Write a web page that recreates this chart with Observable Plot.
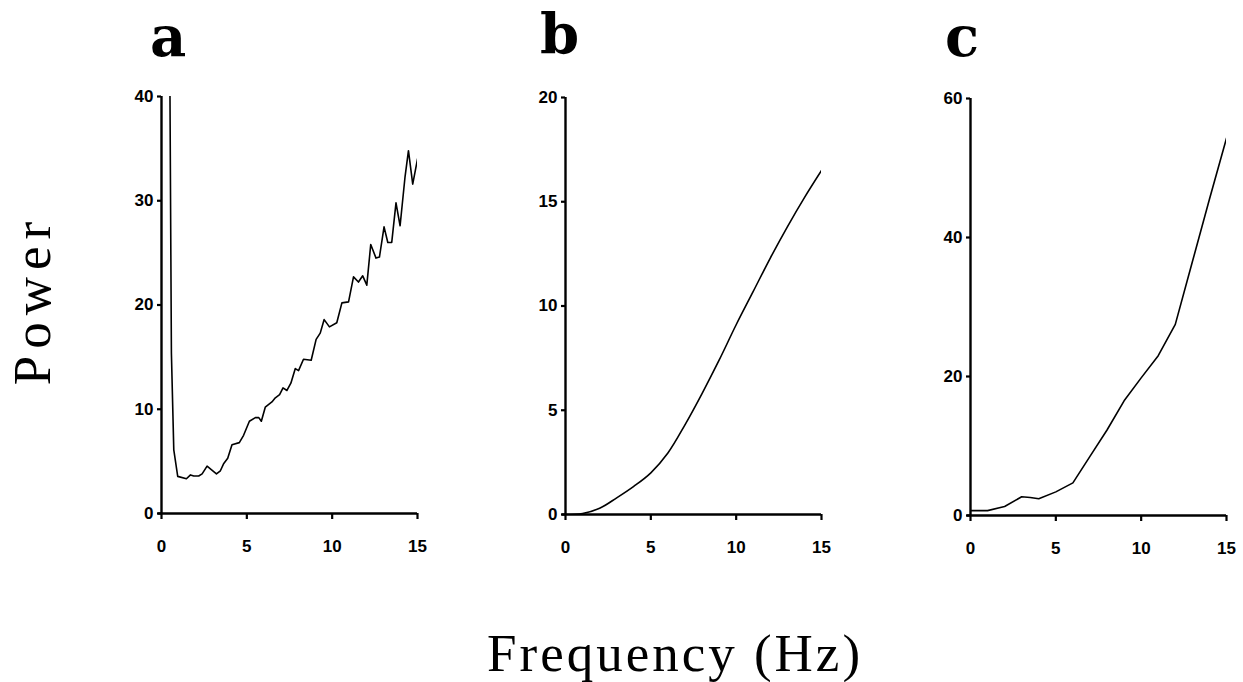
<!DOCTYPE html>
<html>
<head>
<meta charset="utf-8">
<script src="https://cdn.jsdelivr.net/npm/d3@7"></script>
<script src="https://cdn.jsdelivr.net/npm/@observablehq/plot@0.6"></script>
<style>
  html, body { margin: 0; padding: 0; background: #fff; }
  #root { position: relative; width: 1243px; height: 682px; overflow: hidden; background: #fff; }
  .panel { position: absolute; top: 0; }
  .letter { position: absolute; font-family: "DejaVu Serif", serif; font-weight: bold; font-size: 56px; line-height: 56px; color: #000; }
  .axlabel { position: absolute; font-family: "Liberation Serif", "Times New Roman", serif; font-size: 53px; line-height: 53px; color: #000; white-space: nowrap; }
</style>
</head>
<body>
<div id="root"></div>
<script>
// Panel a
const aFreq = [0.47,0.58,0.72,0.95,1.46,1.7,1.89,2.18,2.38,2.67,3.22,3.45,3.65,3.88,4.13,4.56,4.81,5.15,5.5,5.7,5.85,6.08,6.47,6.67,6.92,7.12,7.35,7.58,7.84,8.03,8.32,8.77,9.06,9.3,9.53,9.84,10.27,10.57,10.96,11.25,11.54,11.79,12.03,12.26,12.57,12.77,13.04,13.26,13.49,13.74,13.98,14.27,14.47,14.72,15.0];
const aPower = [48,15.4,6.1,3.56,3.33,3.7,3.6,3.6,3.8,4.55,3.8,4.1,4.8,5.3,6.6,6.8,7.5,8.85,9.2,9.2,8.85,10.2,10.7,11.1,11.4,12.05,11.8,12.5,13.9,13.7,14.8,14.7,16.7,17.3,18.6,17.9,18.3,20.2,20.3,22.7,22.2,22.8,21.9,25.8,24.5,24.6,27.5,26.0,26.0,29.8,27.6,32.3,34.8,31.6,34.0];
// Panel b
const bFreq = [0,1,2,3,4,5,6,7,8,9,10,11,12,13,14,15];
const bPower = [0,0.05,0.3,0.8,1.35,2.0,2.95,4.3,5.8,7.4,9.1,10.7,12.3,13.8,15.2,16.5];
// Panel c
const cFreq = [0,1,2,3,3.5,4,5,6,7,8,9,10,11,12,13,14,15];
const cPower = [0.7,0.7,1.3,2.7,2.6,2.4,3.4,4.7,8.5,12.3,16.5,19.8,23.0,27.5,36.5,45.5,54.3];
// Ticks
const xTicks = [0,5,10,15];
const aTicks = [0,10,20,30,40];
const bTicks = [0,5,10,15,20];
const cTicks = [0,20,40,60];
const panelLetters = ["a","b","c"];
const xTitle = "Frequency (Hz)";
const yTitle = "Power";

const root = document.getElementById("root");

function panel(freq, power, yTicks, yMax, axisX, yTop, yBottom, curve) {
  const data = freq.map((f, i) => ({f, p: power[i]}));
  const ml = 60, mr = 20, mb = 60;
  const svg = Plot.plot({
    width: ml + 256 + mr,
    height: yBottom + mb,
    marginLeft: ml, marginRight: mr, marginTop: yTop, marginBottom: mb,
    x: {domain: [0, 15]},
    y: {domain: [0, yMax]},
    style: {fontFamily: '"Liberation Sans", Arial, sans-serif', fontSize: "17px", fontWeight: "bold", color: "#000", background: "transparent", overflow: "visible"},
    marks: [
      Plot.axisX(xTicks, {tickSize: 6, tickPadding: 20, strokeWidth: 2.2, label: null, fill: "#000", fontSize: 17, fontWeight: "bold"}),
      Plot.axisY(yTicks, {tickSize: 4, tickPadding: 4, strokeWidth: 2.2, label: null, fill: "#000", fontSize: 17, fontWeight: "bold"}),
      Plot.ruleY([0], {x1: -0.2, x2: 15, stroke: "#000", strokeWidth: 2.4}),
      Plot.ruleX([0], {stroke: "#000", strokeWidth: 2.4}),
      Plot.line(data, {x: "f", y: "p", stroke: "#000", strokeWidth: 1.6, clip: true, curve: curve || "linear"})
    ]
  });
  svg.classList.add("panel");
  svg.style.left = (axisX - ml) + "px";
  root.appendChild(svg);
}

panel(aFreq, aPower, aTicks, 40, 161, 96, 513);
panel(bFreq, bPower, bTicks, 20, 565, 97, 514, "catmull-rom");
panel(cFreq, cPower, cTicks, 60, 970, 98, 515);

const letterPos = [[150, 8], [540, 6], [945, 8]];
panelLetters.forEach((t, i) => {
  const d = document.createElement("div");
  d.className = "letter";
  d.textContent = t;
  d.style.left = letterPos[i][0] + "px";
  d.style.top = letterPos[i][1] + "px";
  root.appendChild(d);
});

const xl = document.createElement("div");
xl.className = "axlabel";
xl.textContent = xTitle;
xl.style.letterSpacing = "3px";
xl.style.left = "487px";
xl.style.top = "627px";
root.appendChild(xl);

const yl = document.createElement("div");
yl.className = "axlabel";
yl.textContent = yTitle;
yl.style.letterSpacing = "7px";
yl.style.width = "200px";
yl.style.textAlign = "center";
yl.style.left = "0px";
yl.style.top = "0px";
yl.style.transformOrigin = "0 0";
yl.style.transform = "translate(6px, 400px) rotate(-90deg)";
root.appendChild(yl);
</script>
</body>
</html>
